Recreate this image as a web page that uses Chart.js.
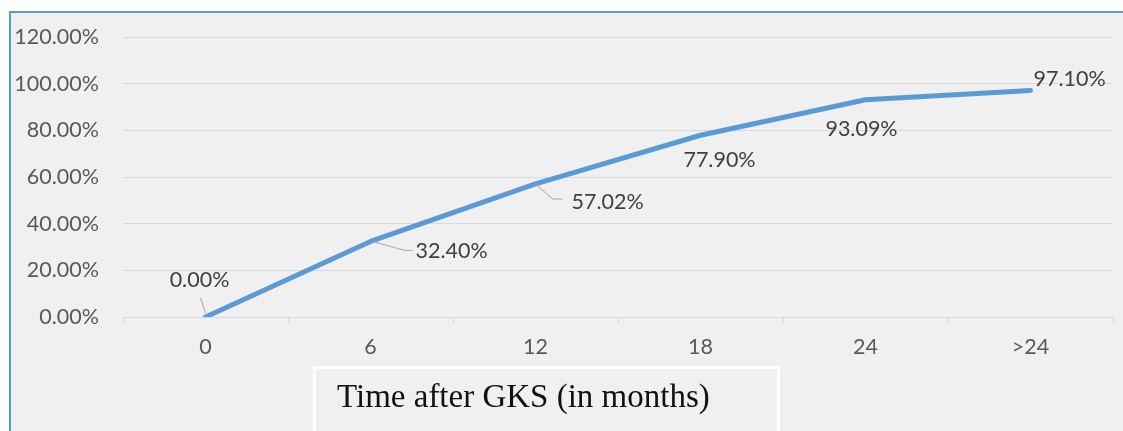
<!DOCTYPE html>
<html>
<head>
<meta charset="utf-8">
<script src="https://cdn.jsdelivr.net/npm/chart.js@4"></script>
<style>
  html, body { margin: 0; padding: 0; background: #ffffff; }
  #wrap { width: 1123px; height: 431px; position: relative; }
</style>
</head>
<body>
<div id="wrap"><canvas id="gksChart" width="1123" height="431"></canvas></div>
<script>
const months = ['0', '6', '12', '18', '24', '>24'];
const rates = [0.00, 32.40, 57.02, 77.90, 93.09, 97.10];
const yTicks = [0, 20, 40, 60, 80, 100, 120];
const axisTitle = 'Time after GKS (in months)';

// where each data label sits relative to its point, plus optional leader line
const labelPos = [
  { dx: -6, dy: -37, align: 'center', leader: [[-5, -19], [0, -4]] },
  { dx: 45, dy: 10, align: 'left', leader: [[2, 0], [34, 9], [42, 9]] },
  { dx: 36, dy: 18, align: 'left', leader: [[0, 0], [17, 15], [27, 15]] },
  { dx: 19, dy: 25, align: 'center' },
  { dx: -4, dy: 29, align: 'center' },
  { dx: 3, dy: -11, align: 'left' }
];

const frame = {
  id: 'frame',
  beforeDraw(chart) {
    const c = chart.ctx;
    c.save();
    c.fillStyle = '#f0f0f0';
    c.fillRect(10, 12, chart.width - 10, chart.height - 12);
    c.strokeStyle = '#5b9bd5';
    c.lineWidth = 2;
    c.beginPath();
    c.moveTo(10, chart.height);
    c.lineTo(10, 12);
    c.lineTo(chart.width, 12);
    c.stroke();
    c.restore();
  },
  afterDraw(chart) {
    const c = chart.ctx;
    const meta = chart.getDatasetMeta(0);
    c.save();
    c.font = '21.5px Lato';
    c.fillStyle = '#404040';
    c.textBaseline = 'middle';
    meta.data.forEach((pt, i) => {
      const p = labelPos[i];
      if (p.leader) {
        c.strokeStyle = '#a6a6a6';
        c.lineWidth = 1;
        c.beginPath();
        p.leader.forEach((q, k) => {
          if (k === 0) c.moveTo(pt.x + q[0], pt.y + q[1]);
          else c.lineTo(pt.x + q[0], pt.y + q[1]);
        });
        c.stroke();
      }
      c.textAlign = p.align;
      c.fillText(rates[i].toFixed(2) + '%', pt.x + p.dx, pt.y + p.dy);
    });

    // axis title box
    c.fillStyle = '#ffffff';
    c.fillRect(313, 366, 467, 70);
    c.fillStyle = '#f0f0f0';
    c.fillRect(316, 369, 461, 70);
    c.fillStyle = '#111111';
    c.font = '33px "Liberation Serif"';
    c.textAlign = 'left';
    c.fillText(axisTitle, 337, 398);
    c.restore();
  }
};

new Chart(document.getElementById('gksChart'), {
  type: 'line',
  data: {
    labels: months,
    datasets: [{
      data: rates,
      borderColor: '#5b9bd5',
      borderWidth: 5,
      borderCapStyle: 'round',
      borderJoinStyle: 'round',
      pointRadius: 0,
      tension: 0,
      fill: false
    }]
  },
  options: {
    responsive: false,
    animation: false,
    layout: { padding: { top: 37, right: 10, left: 0, bottom: 0 } },
    plugins: { legend: { display: false }, tooltip: { enabled: false } },
    scales: {
      x: {
        offset: true,
        afterFit: s => { s.height = 114; },
        grid: { offset: true, drawOnChartArea: false, drawTicks: true, tickLength: 6, color: '#d9d9d9' },
        border: { color: '#d9d9d9', width: 1 },
        ticks: { padding: 11, color: '#595959', font: { family: 'Lato', size: 21.5 } }
      },
      y: {
        min: 0,
        max: 120,
        afterFit: s => { s.width = 123; },
        afterBuildTicks: s => { s.ticks = yTicks.map(v => ({ value: v })); },
        grid: { color: '#d9d9d9', drawTicks: false },
        border: { display: false },
        ticks: {
          padding: 24,
          color: '#595959',
          font: { family: 'Lato', size: 21.5 },
          callback: v => v.toFixed(2) + '%'
        }
      }
    }
  },
  plugins: [frame]
});
</script>
</body>
</html>
